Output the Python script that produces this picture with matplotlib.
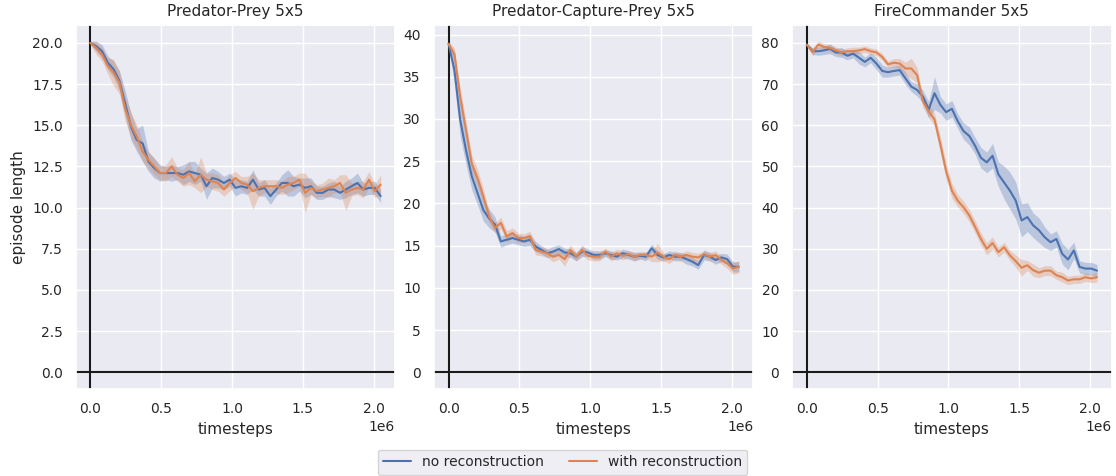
import matplotlib as mpl
mpl.use('agg')
import matplotlib.pyplot as plt
import seaborn as sns
import numpy as np

sns.set_theme(style='darkgrid')
plt.rc('xtick', labelsize=10)
plt.rc('ytick', labelsize=10)
plt.rc('axes', labelsize=11, titlesize=11)
plt.rc('legend', fontsize=10)

# training steps at which the runs were evaluated
timesteps = list(range(0, 2050001, 41000))

titles = ["Predator-Prey 5x5", "Predator-Capture-Prey 5x5", "FireCommander 5x5"]
labels = ["no reconstruction", "with reconstruction"]

# Predator-Prey
pp_no = [20.0, 19.8, 19.5, 18.8, 18.4, 17.7, 16.3, 14.9, 14.1, 13.9,
         12.8, 12.4, 12.1, 12.1, 12.1, 12.1, 12.0, 12.2, 12.1, 12.0,
         11.3, 11.8, 11.7, 11.5, 11.7, 11.2, 11.3, 11.2, 11.7, 11.1,
         11.2, 10.7, 11.1, 11.5, 11.5, 11.3, 11.4, 11.2, 11.3, 10.9,
         10.9, 11.1, 11.1, 10.9, 11.1, 11.3, 11.5, 11.1, 11.2, 11.2, 10.7]
pp_no_err = [0.1, 0.3, 0.4, 0.4, 0.5, 0.6, 0.8, 0.8, 0.7, 1.1,
             0.6, 0.6, 0.5, 0.4, 0.5, 0.4, 0.6, 0.6, 0.7, 0.4,
             0.8, 0.6, 0.5, 0.4, 0.4, 0.5, 0.4, 0.4, 0.6, 0.4,
             0.5, 0.5, 0.4, 0.5, 0.8, 0.6, 0.4, 0.6, 0.5, 0.4,
             0.4, 0.4, 0.5, 0.4, 0.5, 0.5, 0.6, 0.4, 0.4, 0.4, 0.4]
pp_rec = [20.0, 19.7, 19.3, 18.6, 18.2, 17.6, 16.0, 15.0, 14.3, 13.4,
          12.9, 12.5, 12.1, 12.1, 12.5, 12.0, 11.8, 12.1, 11.6, 12.0,
          11.7, 11.6, 11.5, 11.1, 11.5, 11.8, 11.5, 11.4, 11.0, 11.2,
          11.3, 11.3, 11.3, 11.2, 11.4, 11.5, 11.7, 10.9, 11.2, 11.0,
          11.1, 11.2, 11.3, 11.5, 10.9, 11.1, 11.2, 11.1, 11.7, 11.0, 11.4]
pp_rec_err = [0.1, 0.4, 0.4, 0.5, 0.8, 0.7, 0.7, 0.8, 0.7, 0.6,
              0.5, 0.5, 0.4, 0.5, 0.6, 0.4, 0.5, 0.7, 0.4, 1.1,
              0.4, 0.5, 0.5, 0.4, 0.5, 0.4, 0.4, 0.5, 1.1, 0.5,
              0.4, 0.4, 0.4, 0.4, 0.5, 0.4, 0.4, 1.2, 0.4, 0.4,
              0.4, 0.6, 0.4, 0.5, 1.1, 0.4, 0.4, 0.5, 0.5, 0.4, 0.6]

# Predator-Capture-Prey
pcp_no = [38.9, 35.8, 29.9, 26.3, 23.2, 21.2, 19.2, 18.2, 17.5, 15.5,
          15.7, 15.9, 15.7, 15.5, 15.7, 14.9, 14.5, 14.1, 14.3, 14.6,
          14.2, 14.1, 13.7, 14.3, 14.2, 13.9, 13.9, 14.1, 13.9, 13.7,
          14.1, 13.9, 13.7, 13.8, 13.7, 14.7, 13.9, 13.6, 13.9, 13.7,
          13.7, 13.4, 13.1, 12.7, 13.9, 13.7, 13.3, 13.6, 13.4, 12.5, 12.5]
pcp_no_err = [0.3, 1.6, 2.0, 1.7, 1.6, 1.4, 1.3, 1.1, 0.9, 0.7,
              0.6, 0.6, 0.6, 0.6, 0.7, 0.6, 0.5, 0.5, 0.6, 0.5,
              0.5, 0.5, 0.5, 0.6, 0.4, 0.5, 0.5, 0.4, 0.5, 0.4,
              0.5, 0.5, 0.5, 0.4, 0.5, 0.5, 0.5, 0.4, 0.5, 0.5,
              0.5, 0.6, 0.5, 0.5, 0.6, 0.5, 0.5, 0.5, 0.6, 0.6, 0.6]
pcp_rec = [38.9, 37.7, 32.6, 28.7, 24.7, 23.0, 20.8, 18.4, 17.1, 17.7,
           16.1, 16.5, 15.9, 15.9, 16.1, 14.5, 14.3, 14.1, 13.7, 13.9,
           13.4, 14.5, 13.7, 14.5, 13.8, 13.7, 13.7, 14.3, 13.7, 14.1,
           13.8, 14.0, 13.7, 13.9, 13.9, 13.7, 14.2, 13.7, 13.4, 13.9,
           13.7, 13.9, 13.7, 13.6, 14.0, 13.7, 13.9, 13.3, 12.9, 12.3, 12.5]
pcp_rec_err = [0.3, 0.7, 1.1, 1.1, 1.0, 1.0, 0.9, 0.7, 0.6, 0.7,
               0.7, 0.6, 0.6, 0.5, 0.6, 0.6, 0.5, 0.5, 0.6, 0.5,
               0.8, 0.6, 0.5, 0.6, 0.5, 0.5, 0.5, 0.4, 0.5, 0.5,
               0.5, 0.4, 0.5, 0.4, 0.4, 0.6, 1.1, 0.5, 0.5, 0.5,
               0.4, 0.5, 0.5, 0.5, 0.4, 0.5, 0.5, 0.5, 0.6, 0.7, 0.7]

# FireCommander
fc_no = [79.6, 78.0, 78.0, 78.2, 78.6, 77.7, 77.7, 76.9, 77.4, 76.4,
         75.4, 76.4, 75.0, 73.2, 72.9, 73.2, 73.4, 71.4, 69.4, 68.6,
         67.0, 63.8, 67.8, 65.0, 63.2, 64.0, 61.0, 58.6, 57.4, 55.0,
         52.1, 51.0, 52.6, 48.1, 46.1, 44.1, 41.7, 36.9, 37.7, 35.7,
         34.5, 32.8, 31.6, 32.4, 28.8, 27.4, 29.6, 25.6, 25.2, 25.2, 24.7]
fc_no_err = [0.3, 0.8, 1.0, 1.0, 1.2, 1.0, 1.2, 1.0, 1.0, 1.5,
             1.2, 1.2, 1.5, 1.5, 1.2, 1.2, 1.2, 1.5, 1.2, 1.5,
             1.5, 2.0, 4.0, 2.0, 2.0, 2.0, 1.8, 2.0, 2.2, 2.0,
             2.5, 2.5, 3.0, 3.0, 4.0, 4.5, 4.5, 4.0, 3.5, 3.0,
             3.0, 2.5, 2.0, 2.0, 2.5, 2.5, 2.0, 1.5, 1.5, 1.5, 1.5]
fc_rec = [79.6, 77.8, 79.6, 79.0, 78.8, 78.2, 77.7, 78.0, 78.0, 78.2,
          78.5, 78.0, 77.7, 76.6, 74.8, 75.2, 75.0, 73.8, 73.8, 72.2,
          65.8, 63.4, 61.4, 55.4, 48.9, 44.1, 41.7, 40.1, 38.1, 35.3,
          32.4, 30.0, 31.4, 29.2, 30.4, 28.4, 27.0, 25.4, 26.0, 24.8,
          24.2, 24.7, 24.7, 23.6, 23.1, 22.3, 22.6, 22.6, 23.1, 22.8, 23.1]
fc_rec_err = [0.3, 1.0, 0.8, 0.8, 0.8, 0.8, 0.8, 0.8, 1.0, 0.8,
              0.8, 0.8, 0.8, 0.8, 0.8, 1.0, 1.2, 1.5, 2.5, 1.8,
              1.5, 1.5, 1.5, 2.0, 2.0, 1.8, 1.5, 1.5, 1.5, 1.5,
              1.5, 1.5, 1.5, 1.2, 1.2, 1.2, 1.5, 2.0, 1.2, 1.5,
              1.2, 1.2, 1.2, 1.0, 1.2, 1.0, 1.0, 1.0, 1.0, 1.0, 1.2]

panels = [(pp_no, pp_no_err, pp_rec, pp_rec_err),
          (pcp_no, pcp_no_err, pcp_rec, pcp_rec_err),
          (fc_no, fc_no_err, fc_rec, fc_rec_err)]

colors = sns.color_palette('deep')[:2]

fig, axes = plt.subplots(1, 3, figsize=(11.16, 4.76), dpi=100)
fig.subplots_adjust(left=0.068, right=0.996, bottom=0.183, top=0.948, wspace=0.122)

x = np.array(timesteps)
for ax, title, (no, no_err, rec, rec_err) in zip(axes, titles, panels):
    ax.axhline(0, color='k', lw=1.5, zorder=1)
    ax.axvline(0, color='k', lw=1.5, zorder=1)
    for mean, err, c, lab in [(no, no_err, colors[0], labels[0]),
                              (rec, rec_err, colors[1], labels[1])]:
        mean = np.array(mean)
        err = np.array(err)
        ax.fill_between(x, mean - err, mean + err, color=c, alpha=0.3, lw=0)
        ax.plot(x, mean, color=c, lw=1.5, label=lab)
    ax.set_title(title)
    ax.set_xlabel("timesteps")

axes[0].set_ylabel("episode length")

handles, labs = axes[0].get_legend_handles_labels()
fig.legend(handles, labs, loc='lower center', ncol=2, columnspacing=1.8,
           bbox_to_anchor=(0.504, -0.012))

fig.savefig('out.png', dpi=100)
